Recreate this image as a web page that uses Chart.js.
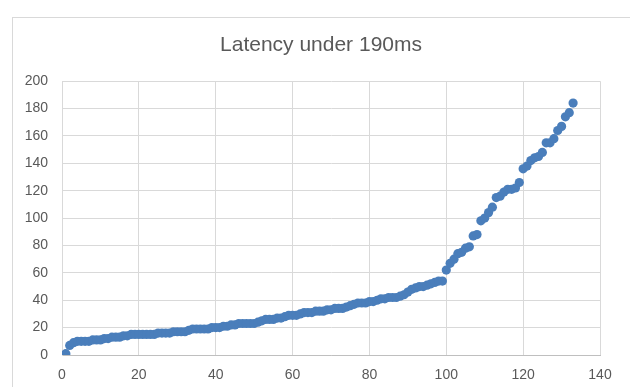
<!DOCTYPE html>
<html>
<head>
<meta charset="utf-8">
<script src="https://cdn.jsdelivr.net/npm/chart.js@4.4.0/dist/chart.umd.min.js"></script>
<style>
  html, body { margin: 0; padding: 0; background: #fff; }
  #wrap { width: 630px; height: 387px; }
</style>
</head>
<body>
<div id="wrap"><canvas id="latencyChart" width="630" height="387"></canvas></div>
<script>
// Latency values (ms), sorted, one per sample index 1..133
const latencyMs = [
  1, 7, 9, 10, 10, 10, 10, 11, 11, 11,
  12, 12, 13, 13, 13, 14, 14, 15, 15, 15,
  15, 15, 15, 15, 16, 16, 16, 16, 17, 17,
  17, 17, 18, 19, 19, 19, 19, 19, 20, 20,
  20, 21, 21, 22, 22, 23, 23, 23, 23, 23,
  24, 25, 26, 26, 26, 27, 27, 28, 29, 29,
  29, 30, 31, 31, 31, 32, 32, 32, 33, 33,
  34, 34, 34, 35, 36, 37, 38, 38, 38, 39,
  39, 40, 41, 41, 42, 42, 42, 43, 44, 46,
  48, 49, 50, 50, 51, 52, 53, 54, 54, 62,
  67, 70, 74, 75, 78, 79, 87, 88, 98, 100,
  104, 108, 115, 116, 119, 121, 121, 122, 126, 136,
  138, 142, 144, 145, 148, 155, 155, 158, 164, 167,
  174, 177, 184
];
const xTicks = [0, 20, 40, 60, 80, 100, 120, 140];
const yTicks = [0, 20, 40, 60, 80, 100, 120, 140, 160, 180, 200];
const chartTitle = "Latency under 190ms";

const points = latencyMs.map((v, i) => ({ x: i + 1, y: v }));

// white background + light frame around the whole chart
const frame = {
  id: "frame",
  beforeDraw(chart) {
    const ctx = chart.ctx;
    ctx.save();
    ctx.fillStyle = "#ffffff";
    ctx.fillRect(0, 0, chart.width, chart.height);
    ctx.strokeStyle = "#d9d9d9";
    ctx.lineWidth = 1;
    ctx.strokeRect(12.5, 17.5, 700, 500);
    ctx.restore();
  },
};

Chart.defaults.font.family = "'Liberation Sans', Arial, sans-serif";
Chart.defaults.color = "#595959";

function initChart() {
  const ctx = document.getElementById("latencyChart").getContext("2d");
  new Chart(ctx, {
    type: "scatter",
    data: {
      datasets: [
        {
          label: "Latency",
          data: points,
          backgroundColor: "#4a7ebb",
          borderWidth: 0,
          pointRadius: 4.6,
        },
      ],
    },
    options: {
      responsive: false,
      animation: false,
      layout: { padding: { left: 12, right: 0, top: 0, bottom: 0 } },
      plugins: {
        legend: { display: false },
        tooltip: { enabled: false },
        title: {
          display: true,
          text: chartTitle,
          color: "#595959",
          font: { size: 21, weight: "normal" },
          padding: { top: 33, bottom: 23 },
        },
      },
      scales: {
        x: {
          type: "linear",
          min: xTicks[0],
          max: xTicks[xTicks.length - 1],
          afterBuildTicks: (s) => { s.ticks = xTicks.map((v) => ({ value: v })); },
          afterFit: (s) => { s.height = 32; },
          grid: { color: "#d9d9d9", drawTicks: false },
          border: { color: "#bfbfbf" },
          ticks: { font: { size: 14 }, padding: 12 },
        },
        y: {
          min: yTicks[0],
          max: yTicks[yTicks.length - 1],
          afterBuildTicks: (s) => { s.ticks = yTicks.map((v) => ({ value: v })); },
          afterFit: (s) => { s.width = 50; },
          grid: { color: "#d9d9d9", drawTicks: false },
          border: { color: "#d9d9d9" },
          ticks: { font: { size: 14 }, padding: 14 },
        },
        // empty right-hand spacer so the plot ends at x=600
        spacer: {
          position: "right",
          grid: { display: false, drawTicks: false },
          border: { display: false },
          ticks: { display: false },
          afterFit: (s) => { s.width = 30; },
        },
      },
    },
    plugins: [frame],
  });
}

document.addEventListener("DOMContentLoaded", initChart);
</script>
</body>
</html>
